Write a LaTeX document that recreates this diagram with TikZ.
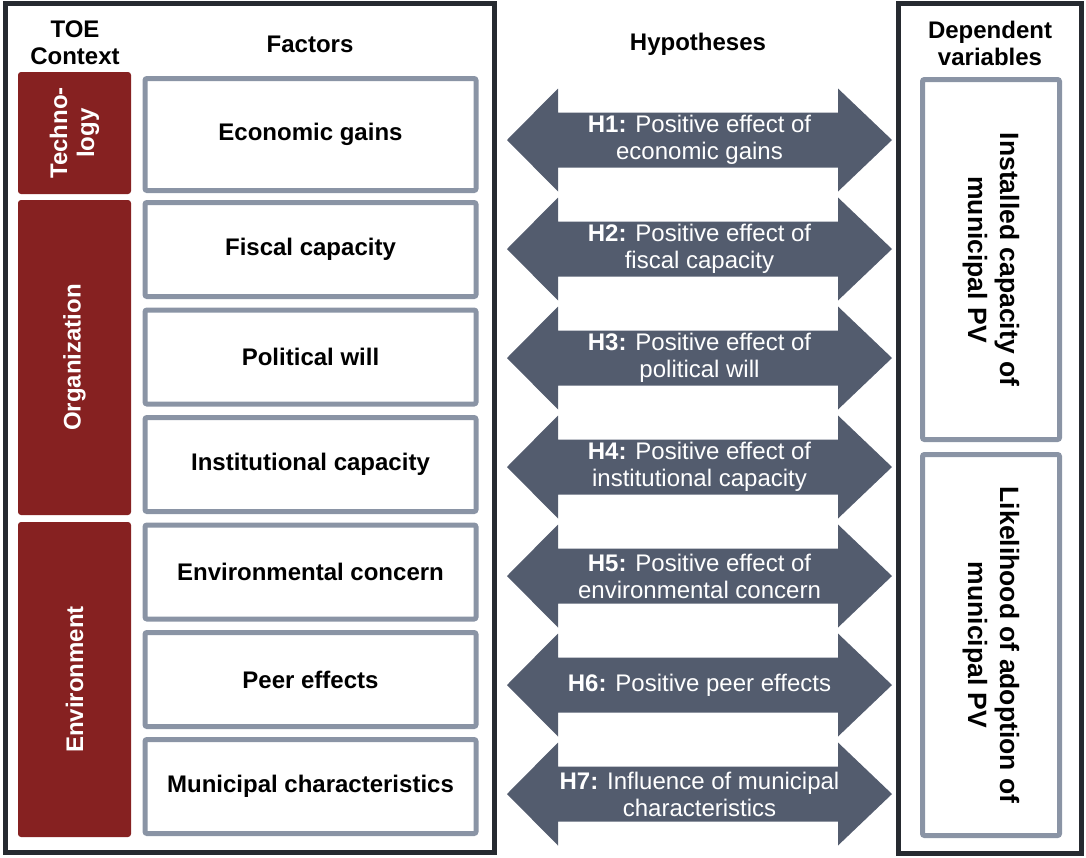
\documentclass[tikz,border=0pt]{standalone}
\usepackage{fontspec}
\setmainfont{Liberation Sans}

\definecolor{toered}{RGB}{134,33,33}
\definecolor{boxgray}{RGB}{138,148,165}
\definecolor{arrowslate}{RGB}{83,92,110}
\definecolor{frameblack}{RGB}{38,42,48}

\tikzset{
  header/.style={align=center, font=\bfseries\fontsize{24}{27}\selectfont},
  frame/.style={draw=frameblack, line width=5pt},
  factorbox/.style={draw=boxgray, line width=5pt, rounded corners=2pt, fill=white,
    minimum width=331pt, minimum height=94pt, align=center,
    font=\bfseries\fontsize{24}{27}\selectfont},
  toebox/.style={fill=toered, rounded corners=3pt, rotate=90, text=white,
    minimum height=113pt, align=center, font=\bfseries\fontsize{24}{27}\selectfont},
  depbox/.style={draw=boxgray, line width=5pt, rounded corners=2pt, rotate=-90,
    minimum height=137pt, align=center, font=\bfseries\fontsize{26.5}{32}\selectfont},
  hyparrow/.style={fill=arrowslate},
  hyptext/.style={text=white, align=center, font=\fontsize{24}{27}\selectfont}
}

\begin{document}
\begin{tikzpicture}[x=1pt, y=-1pt]
    \useasboundingbox (0,0) rectangle (1086,857);

    % Frames
    \draw[frame] (5.5,3.5) rectangle (494.5,852);
    \draw[frame] (898.5,3.5) rectangle (1081.5,853);

    % Headers
    \node[header] (toehead) at (75,43) {TOE\\Context};
    \node[header] (facthead) at (310,44) {Factors};
    \node[header] (hyphead) at (698,44) {Hypotheses};
    \node[header] (dephead) at (990,43.5) {Dependent\\variables};

    % TOE context
    \node[toebox, minimum width=122pt] (tech) at (74.5,133) {Techno-\\logy};
    \node[toebox, minimum width=315pt] (org) at (74.5,357.5) {Organization};
    \node[toebox, minimum width=315pt] (env) at (74.5,679.5) {Environment};

    % Factors
    \node[factorbox, minimum height=112pt] (econ) at (310.5,134.5) {Economic gains};
    \node[factorbox] (fiscal) at (310.5,249.5) {Fiscal capacity};
    \node[factorbox] (polwill) at (310.5,357) {Political will};
    \node[factorbox] (inst) at (310.5,464.5) {Institutional capacity};
    \node[factorbox] (envcon) at (310.5,572) {Environmental concern};
    \node[factorbox] (peer) at (310.5,679.5) {Peer effects};
    \node[factorbox] (munchar) at (310.5,786.5) {Municipal characteristics};

    % Hypotheses
    \foreach \y/\n/\txt in {
        140/1/{\textbf{H1:} Positive effect of\\economic gains},
        249/2/{\textbf{H2:} Positive effect of\\fiscal capacity},
        358/3/{\textbf{H3:} Positive effect of\\political will},
        467/4/{\textbf{H4:} Positive effect of\\institutional capacity},
        576/5/{\textbf{H5:} Positive effect of\\environmental concern},
        685/6/{\textbf{H6:} Positive peer effects},
        794/7/{\textbf{H7:} Influence of municipal\\characteristics}}{
      \fill[hyparrow] (507,\y) -- (558,\y-51.5) -- (558,\y-27.5) -- (838,\y-27.5)
        -- (838,\y-51.5) -- (892,\y) -- (838,\y+51.5) -- (838,\y+27.5)
        -- (558,\y+27.5) -- (558,\y+51.5) -- cycle;
      \node[hyptext] (hyp\n) at (699.5,\y) {\txt};
    }

    % Dependent variables
    \node[depbox, minimum width=360pt] (capacity) at (991,259.5) {Installed capacity of\\municipal PV};
    \node[depbox, minimum width=381pt] (adoption) at (991,645) {Likelihood of adoption of\\municipal PV};
\end{tikzpicture}
\end{document}
